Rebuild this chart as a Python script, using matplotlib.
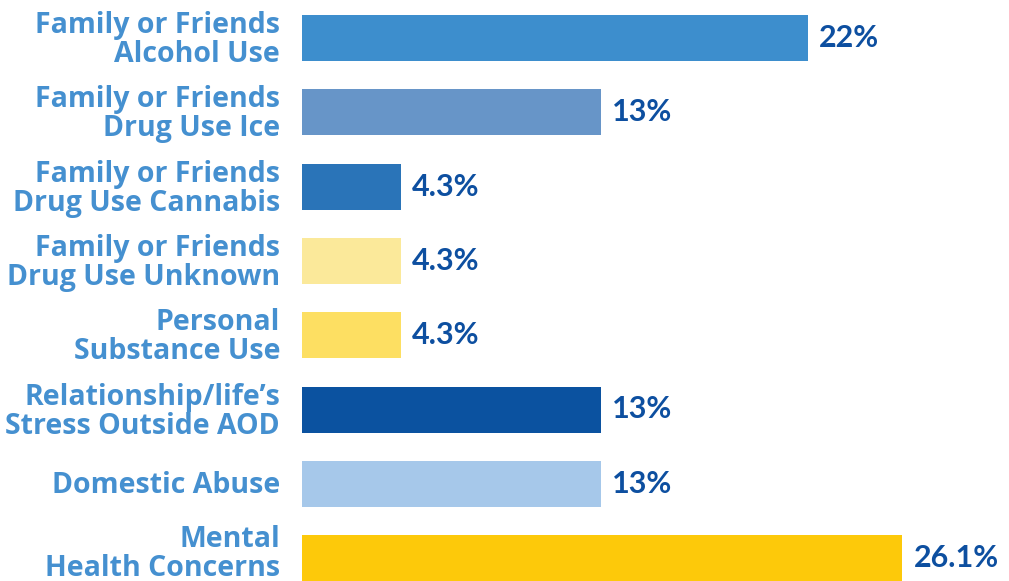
import matplotlib
matplotlib.use("Agg")
import matplotlib.pyplot as plt

categories = [
    "Family or Friends\nAlcohol Use",
    "Family or Friends\nDrug Use Ice",
    "Family or Friends\nDrug Use Cannabis",
    "Family or Friends\nDrug Use Unknown",
    "Personal\nSubstance Use",
    "Relationship/life\u2019s\nStress Outside AOD",
    "Domestic Abuse",
    "Mental\nHealth Concerns",
]
values = [22, 13, 4.3, 4.3, 4.3, 13, 13, 26.1]
value_labels = ["22%", "13%", "4.3%", "4.3%", "4.3%", "13%", "13%", "26.1%"]
colors = ["#3d8ecd", "#6795c8", "#2a74b8", "#fbe99a", "#fddf62", "#0b52a0", "#a6c8ea", "#fdc90a"]

W, H = 1009, 581
fig = plt.figure(figsize=(W / 100, H / 100), dpi=100)
left_px = 302
ax = fig.add_axes([left_px / W, 0, 1 - left_px / W, 1])
px_per_unit = 23.0
ax.set_xlim(0, (W - left_px) / px_per_unit)
spacing = 74.3
c0 = 38
ax.set_ylim((H - c0) / spacing, -c0 / spacing)

y = list(range(len(categories)))
ax.barh(y, values, height=46 / spacing, color=colors)
ax.axis("off")

for i, (v, lab) in enumerate(zip(values, value_labels)):
    ax.annotate(lab, (v, i), xytext=(8, 0), textcoords="offset points",
                ha="left", va="center", fontsize=22, fontweight="bold",
                color="#0d4fa0", family="Lato")
    dy = 3 if i == len(categories) - 1 else -1.5
    ax.annotate(categories[i], (0, i), xytext=(-22 * 72 / 100, dy), textcoords="offset points",
                ha="right", va="center", fontsize=20.5, fontweight="bold",
                color="#4590d0", family="Open Sans", linespacing=1.0,
                multialignment="right")

fig.savefig("out.png", dpi=100)
